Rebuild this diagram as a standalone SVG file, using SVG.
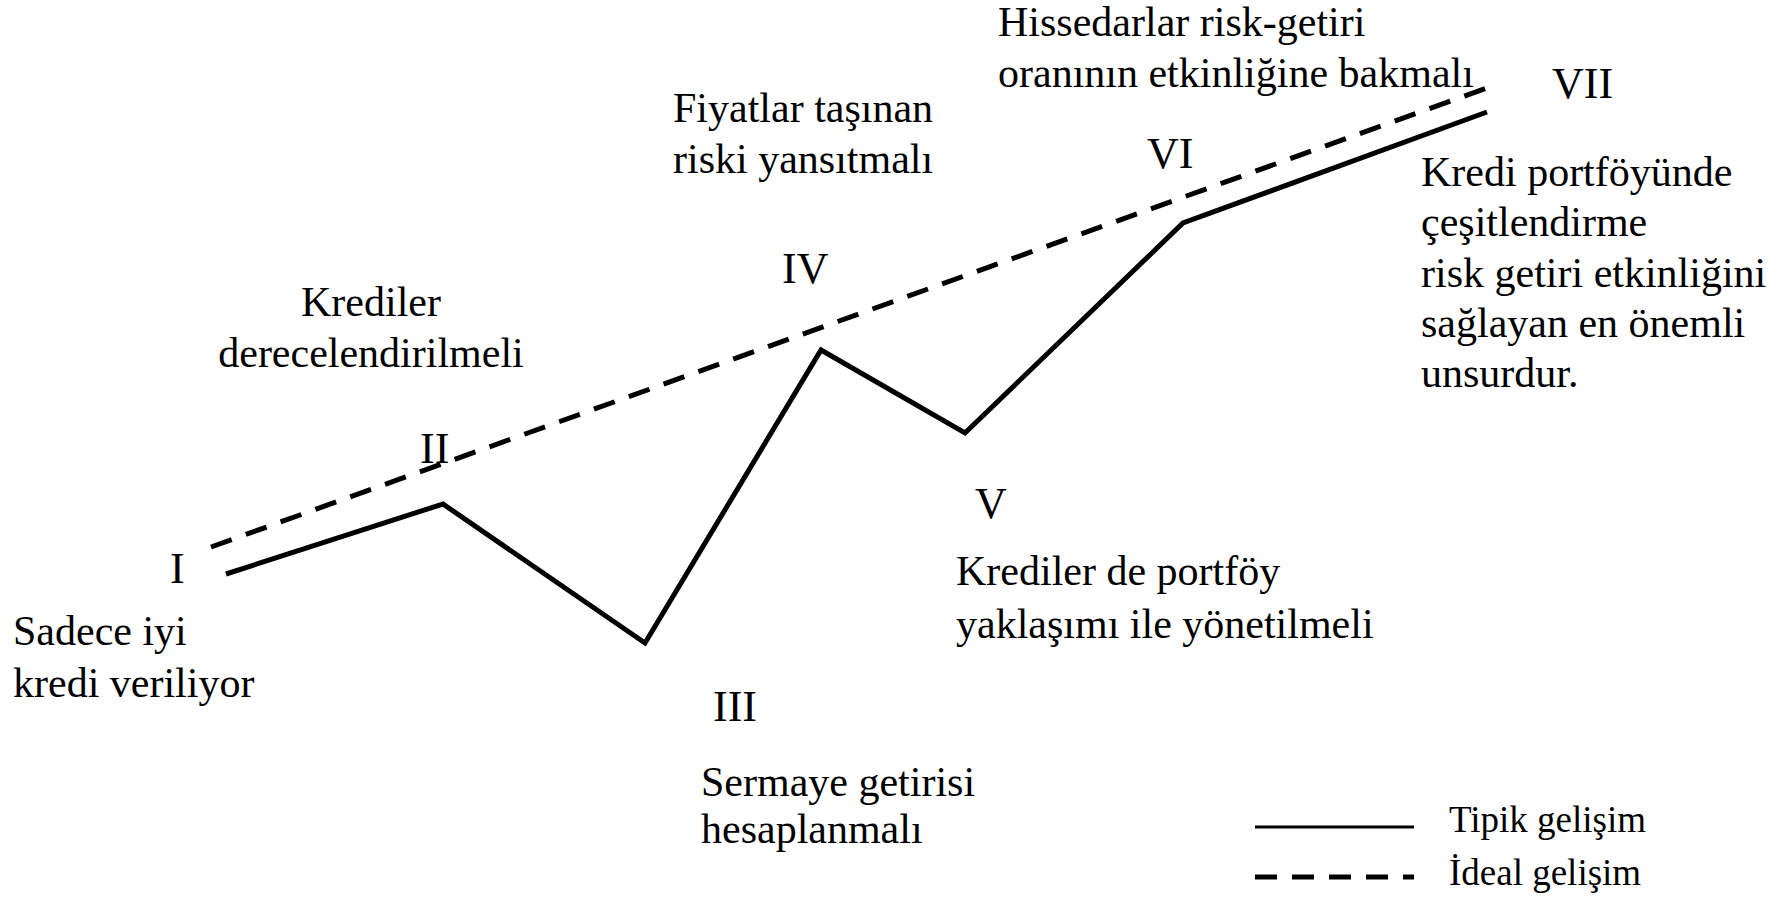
<svg xmlns="http://www.w3.org/2000/svg" width="1785" height="897" viewBox="0 0 1785 897">
<style>
text{font-family:"Liberation Serif","Times New Roman",serif;fill:#000;font-size:42px}
.num{font-size:44px}
.leg{font-size:37px}
.solid{fill:none;stroke:#000;stroke-width:5;stroke-linejoin:miter}
.dash{fill:none;stroke:#000;stroke-width:5;stroke-dasharray:22 15}
</style>
<rect width="1785" height="897" fill="#fff"/>
<g id="connectors">
<polyline class="solid" points="226,574 443,504 645,643 821,350 965,433 1183,223 1487,112"/>
<line class="dash" x1="211" y1="547" x2="1495" y2="85"/>
</g>
<g id="node-I"><text class="num" x="170" y="583">I</text>
<text x="13" y="645">Sadece iyi</text><text x="13" y="697">kredi veriliyor</text></g>
<g id="node-II"><text class="num" x="420" y="463">II</text>
<text x="371" y="316" text-anchor="middle">Krediler</text><text x="371" y="367" text-anchor="middle">derecelendirilmeli</text></g>
<g id="node-III"><text class="num" x="713" y="721">III</text>
<text x="701" y="796">Sermaye getirisi</text><text x="701" y="843">hesaplanmalı</text></g>
<g id="node-IV"><text class="num" x="782" y="283">IV</text>
<text x="673" y="122">Fiyatlar taşınan</text><text x="673" y="173">riski yansıtmalı</text></g>
<g id="node-V"><text class="num" x="975" y="518">V</text>
<text x="956" y="585">Krediler de portföy</text><text x="956" y="638">yaklaşımı ile yönetilmeli</text></g>
<g id="node-VI"><text class="num" x="1147" y="168">VI</text>
<text x="998" y="36">Hissedarlar risk-getiri</text><text x="998" y="87">oranının etkinliğine bakmalı</text></g>
<g id="node-VII"><text class="num" x="1552" y="98">VII</text>
<text x="1421" y="186">Kredi portföyünde</text><text x="1421" y="236">çeşitlendirme</text><text x="1421" y="287">risk getiri etkinliğini</text><text x="1421" y="337">sağlayan en önemli</text><text x="1421" y="387">unsurdur.</text></g>
<g id="legend">
<line x1="1255" y1="827" x2="1414" y2="827" stroke="#000" stroke-width="3"/>
<line class="dash" x1="1255" y1="877" x2="1414" y2="877"/>
<text class="leg" x="1449" y="832">Tipik gelişim</text>
<text class="leg" x="1449" y="885">İdeal gelişim</text>
</g>
</svg>
